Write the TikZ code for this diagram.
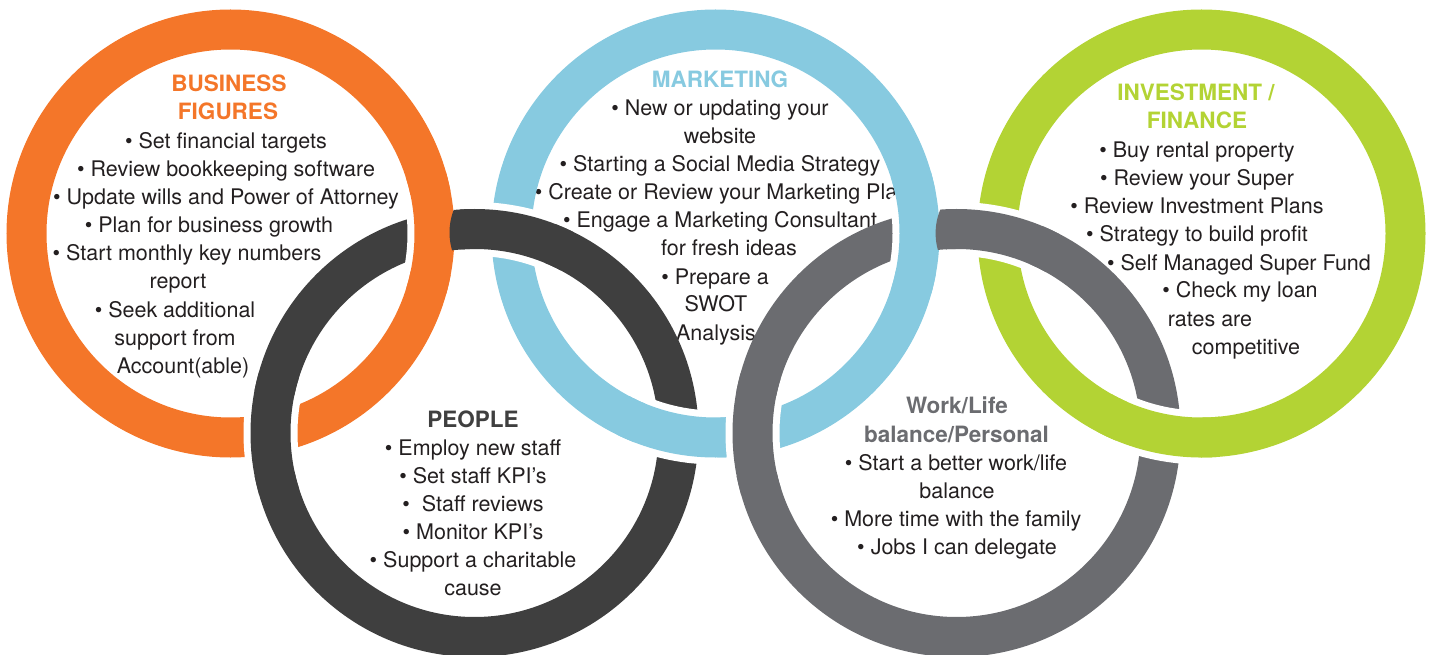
\documentclass[tikz,border=0pt]{standalone}
\usepackage{fontspec}
\setmainfont{TeX Gyre Heros}
\definecolor{ringOrange}{HTML}{F47629}
\definecolor{ringBlue}{HTML}{87CAE0}
\definecolor{ringGreen}{HTML}{B3D334}
\definecolor{ringDark}{HTML}{3F3F3F}
\definecolor{ringGrey}{HTML}{6B6C70}
\definecolor{ink}{HTML}{231F20}
% redraw a piece of one ring over another, with a white gap around it:
% the white band is clipped tighter than the coloured band, so no seam shows
\newcommand\overpass[3]{%
  \begin{scope}
    \clip (#3) circle[radius=45pt];
    \draw[white, line width=54pt] (#2) circle[radius=204pt];
  \end{scope}
  \begin{scope}
    \clip (#3) circle[radius=62pt];
    \draw[#1, line width=40pt] (#2) circle[radius=204pt];
  \end{scope}}
\begin{document}
\begin{tikzpicture}[x=1pt,y=-1pt,
  item/.style={font=\fontsize{21.5}{26}\selectfont, text=ink, inner sep=0pt, anchor=base},
  head/.style={font=\fontsize{22.5}{26}\selectfont\bfseries, inner sep=0pt, anchor=base},
  ring/.style={line width=40pt}]
\useasboundingbox (0,0) rectangle (1433,655);

% ring centres
\coordinate (cO) at (230.5,233.5);
\coordinate (cD) at (474.5,433);
\coordinate (cB) at (715.5,233.5);
\coordinate (cG) at (956.5,433);
\coordinate (cN) at (1201.5,233.5);

% crossing points of neighbouring rings
\coordinate (xOD1) at (434.5,233);
\coordinate (xOD2) at (270.5,433.5);
\coordinate (xDB1) at (511.5,232.5);
\coordinate (xDB2) at (678.5,434);
\coordinate (xBG1) at (919.5,232.5);
\coordinate (xBG2) at (752.5,434);
\coordinate (xGN1) at (997.6,233.25);
\coordinate (xGN2) at (1160.4,433.25);

% ---- Business figures
\node[head, text=ringOrange] (bfh1) at (229,92) {BUSINESS};
\node[head, text=ringOrange] (bfh2) at (228,120) {FIGURES};
\node[item] (bf1) at (226,149) {\textbullet\ Set financial targets};
\node[item] (bf2) at (226,177) {\textbullet\ Review bookkeeping software};
\node[item] (bf3) at (226,205) {\textbullet\ Update wills and Power of Attorney};
\node[item] (bf4) at (209,233) {\textbullet\ Plan for business growth};
\node[item] (bf5) at (187,261) {\textbullet\ Start monthly key numbers};
\node[item] (bf6) at (178,289) {report};
\node[item] (bf7) at (175,317) {\textbullet\ Seek additional};
\node[item] (bf8) at (175,345) {support from};
\node[item] (bf9) at (183,373) {Account(able)};

% ---- Marketing
\node[head, text=ringBlue] (mkh) at (720,88) {MARKETING};
\node[item] (mk1) at (720,116) {\textbullet\ New or updating your};
\node[item] (mk2) at (720,144) {website};
\node[item] (mk3) at (720,172) {\textbullet\ Starting a Social Media Strategy};
\node[item] (mk4) at (722,200) {\textbullet\ Create or Review your Marketing Plan};
\node[item] (mk5) at (720,228) {\textbullet\ Engage a Marketing Consultant};
\node[item] (mk6) at (729,256) {for fresh ideas};
\node[item] (mk7) at (715,284) {\textbullet\ Prepare a};
\node[item] (mk8) at (716,312) {SWOT};
\node[item] (mk9) at (716,340) {Analysis};

% ---- Investment / finance
\node[head, text=ringGreen] (ivh1) at (1196,101) {INVESTMENT /};
\node[head, text=ringGreen] (ivh2) at (1197,129) {FINANCE};
\node[item] (iv1) at (1197,158) {\textbullet\ Buy rental property};
\node[item] (iv2) at (1197,186) {\textbullet\ Review your Super};
\node[item] (iv3) at (1197,214) {\textbullet\ Review Investment Plans};
\node[item] (iv4) at (1197,242) {\textbullet\ Strategy to build profit};
\node[item] (iv5) at (1239,270) {\textbullet\ Self Managed Super Fund};
\node[item] (iv6) at (1240,298) {\textbullet\ Check my loan};
\node[item] (iv7) at (1210,326) {rates are};
\node[item] (iv8) at (1246,354) {competitive};

% ---- People
\node[head, text=ringDark] (pph) at (473,427) {PEOPLE};
\node[item] (pp1) at (473,455) {\textbullet\ Employ new staff};
\node[item] (pp2) at (473,483) {\textbullet\ Set staff KPI’s};
\node[item] (pp3) at (473,511) {\textbullet\ \ Staff reviews};
\node[item] (pp4) at (473,539) {\textbullet\ Monitor KPI’s};
\node[item] (pp5) at (473,567) {\textbullet\ Support a charitable};
\node[item] (pp6) at (473,595) {cause};

% ---- Work / life balance
\node[head, text=ringGrey] (wlh1) at (957,413) {Work/Life};
\node[head, text=ringGrey] (wlh2) at (956.5,442) {balance/Personal};
\node[item] (wl1) at (956,470) {\textbullet\ Start a better work/life};
\node[item] (wl2) at (957,498) {balance};
\node[item] (wl3) at (956,526) {\textbullet\ More time with the family};
\node[item] (wl4) at (957,554) {\textbullet\ Jobs I can delegate};

% ---- the five rings
\draw[ring, ringOrange] (cO) circle[radius=204pt];
\draw[ring, ringDark]   (cD) circle[radius=204pt];
\draw[ring, ringBlue]   (cB) circle[radius=204pt];
\draw[ring, ringGrey]   (cG) circle[radius=204pt];
\draw[ring, ringGreen]  (cN) circle[radius=204pt];

% ---- interlocking: which ring passes over at each crossing
\overpass{ringOrange}{cO}{xOD1}
\overpass{ringDark}{cD}{xOD2}
\overpass{ringDark}{cD}{xDB1}
\overpass{ringBlue}{cB}{xDB2}
\overpass{ringBlue}{cB}{xBG1}
\overpass{ringGrey}{cG}{xBG2}
\overpass{ringGrey}{cG}{xGN1}
\overpass{ringGreen}{cN}{xGN2}
\end{tikzpicture}
\end{document}
